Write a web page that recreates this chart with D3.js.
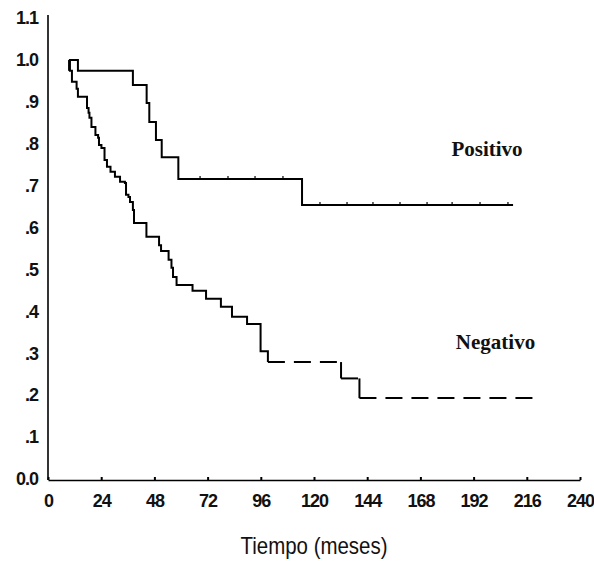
<!DOCTYPE html>
<html>
<head>
<meta charset="utf-8">
<script src="https://cdn.jsdelivr.net/npm/d3@7/dist/d3.min.js"></script>
<style>
  body { margin: 0; background: #fff; }
  svg { display: block; }
  .axis text { font-family: "Liberation Sans", Arial, sans-serif; font-size: 18px; font-weight: bold; fill: #111; letter-spacing: -1px; }
  .axis path, .axis line { stroke: #000; }
  .group-label { font-family: "Liberation Serif", "Times New Roman", serif; font-size: 21px; font-weight: bold; fill: #111; }
  .axis-title { font-family: "Liberation Sans", Arial, sans-serif; font-size: 24px; fill: #111; }
</style>
</head>
<body>
<svg id="chart" width="594" height="568"></svg>
<script>
// Kaplan-Meier style steps: time (months) where the curve drops, value after the drop
const positivoTimes  = [9.5, 13.5, 38.3, 44.5, 45.7, 48.7, 51.3, 58.8, 114.6]
const positivoValues = [1.0, 0.974, 0.940, 0.897, 0.852, 0.809, 0.768, 0.716, 0.654]
const positivoEnd = 209.8
const positivoCensored = [68.6, 81.2, 93.4, 106, 122.7, 134.9, 146.6, 158.8, 171, 182.3, 194.9, 207.5]

const negativoTimes  = [9.5, 9.9, 10.8, 12.9, 13.5, 17.6, 18.3, 18.7, 19.6, 21.4, 22.6, 23.0, 24.1, 25.5,
                        26.6, 28.2, 30.2, 32.5, 34.7, 35.2, 36.3, 37.0, 38.3, 38.8, 44.4, 50.1, 51.0,
                        54.4, 55.7, 56.4, 58.0, 65.2, 71.3, 78.0, 83.0, 89.8, 95.9, 99.2, 132.2, 140.5]
const negativoValues = [1.0, 0.974, 0.948, 0.931, 0.912, 0.885, 0.874, 0.862, 0.840, 0.821, 0.814, 0.797, 0.790, 0.761,
                        0.745, 0.733, 0.721, 0.709, 0.706, 0.678, 0.673, 0.661, 0.642, 0.611, 0.578, 0.558, 0.544,
                        0.523, 0.504, 0.482, 0.463, 0.449, 0.430, 0.411, 0.387, 0.370, 0.305, 0.279, 0.240, 0.193]
const negativoEnd = 220.6
const negativoDashFrom = 99.2   // tail of the curve drawn dashed

const xTicks = [0, 24, 48, 72, 96, 120, 144, 168, 192, 216, 240]
const yTicks = [0, 0.1, 0.2, 0.3, 0.4, 0.5, 0.6, 0.7, 0.8, 0.9, 1.0, 1.1]
const yTickLabels = ["0.0", ".1", ".2", ".3", ".4", ".5", ".6", ".7", ".8", ".9", "1.0", "1.1"]

const svg = d3.select("#chart")
const margin = { top: 18, right: 14, bottom: 89, left: 48 }
const width = +svg.attr("width") - margin.left - margin.right
const height = +svg.attr("height") - margin.top - margin.bottom

const x = d3.scaleLinear().domain([0, 240]).range([margin.left, margin.left + width])
const y = d3.scaleLinear().domain([0, 1.1]).range([margin.top + height, margin.top])

// axes
const xAxis = svg.append("g")
    .attr("class", "axis")
    .attr("transform", "translate(0," + (margin.top + height + 1) + ")")
    .call(d3.axisBottom(x).tickValues(xTicks).tickSizeInner(-3).tickSizeOuter(0).tickPadding(14))
xAxis.select(".domain").attr("stroke-width", 1.3)
xAxis.selectAll(".tick line").attr("stroke-width", 2)

const yAxis = svg.append("g")
    .attr("class", "axis")
    .attr("transform", "translate(" + margin.left + ",0)")
    .call(d3.axisLeft(y).tickValues(yTicks).tickSize(0).tickPadding(10)
        .tickFormat((d, i) => yTickLabels[i]))
yAxis.select(".domain").attr("stroke-width", 1.6)
    .attr("d", "M0," + (y(0) + 1) + "V" + (margin.top - 3))

// step line helper
const stepLine = d3.line()
    .x(d => x(d[0]))
    .y(d => y(d[1]))
    .curve(d3.curveStepAfter)

function stepPoints (times, values, end) {
    const pts = times.map((t, i) => [t, values[i]])
    pts.push([end, values[values.length - 1]])
    return pts
}

// Positivo
const posPts = stepPoints(positivoTimes, positivoValues, positivoEnd)
svg.append("path")
    .datum(posPts)
    .attr("fill", "none")
    .attr("stroke", "#000")
    .attr("stroke-width", 2)
    .attr("d", stepLine)

// small box at the start of the positive curve
svg.append("path")
    .datum([[positivoTimes[0], positivoValues[1]], [positivoTimes[0], positivoValues[0]]])
    .attr("fill", "none")
    .attr("stroke", "#000")
    .attr("stroke-width", 2)
    .attr("d", d3.line().x(d => x(d[0])).y(d => y(d[1])))

const valueAt = (times, values, t) => {
    let v = values[0]
    times.forEach((tt, i) => { if (tt <= t) v = values[i] })
    return v
}

svg.append("g").selectAll("line")
    .data(positivoCensored)
    .join("line")
    .attr("x1", d => x(d))
    .attr("x2", d => x(d))
    .attr("y1", d => y(valueAt(positivoTimes, positivoValues, d)))
    .attr("y2", d => y(valueAt(positivoTimes, positivoValues, d)) - 3)
    .attr("stroke", "#000")
    .attr("stroke-width", 1.2)

// Negativo: solid head
const negPts = stepPoints(negativoTimes, negativoValues, negativoEnd)
const head = negPts.filter(d => d[0] <= negativoDashFrom)
svg.append("path")
    .datum(head)
    .attr("fill", "none")
    .attr("stroke", "#000")
    .attr("stroke-width", 2)
    .attr("d", stepLine)

// Negativo: tail, horizontal parts dashed, drops solid
const tail = negPts.filter(d => d[0] >= negativoDashFrom)
const tailH = [], tailV = []
for (let i = 0; i < tail.length - 1; i++) {
    tailH.push([[tail[i][0], tail[i][1]], [tail[i + 1][0], tail[i][1]]])
    if (tail[i + 1][1] !== tail[i][1]) {
        tailV.push([[tail[i + 1][0], tail[i][1]], [tail[i + 1][0], tail[i + 1][1]]])
    }
}
const segLine = d3.line().x(d => x(d[0])).y(d => y(d[1]))
svg.append("g").selectAll("path")
    .data(tailH)
    .join("path")
    .attr("fill", "none")
    .attr("stroke", "#000")
    .attr("stroke-width", 2)
    .attr("stroke-dasharray", "17,9")
    .attr("d", segLine)
svg.append("g").selectAll("path")
    .data(tailV)
    .join("path")
    .attr("fill", "none")
    .attr("stroke", "#000")
    .attr("stroke-width", 2)
    .attr("d", segLine)

// group labels
svg.append("text")
    .attr("class", "group-label")
    .attr("x", x(182))
    .attr("y", y(0.77))
    .text("Positivo")

svg.append("text")
    .attr("class", "group-label")
    .attr("x", x(184))
    .attr("y", y(0.31))
    .text("Negativo")

// axis title
svg.append("text")
    .attr("class", "axis-title")
    .attr("x", x(120))
    .attr("y", 554)
    .attr("text-anchor", "middle")
    .attr("textLength", 147)
    .attr("lengthAdjust", "spacingAndGlyphs")
    .text("Tiempo (meses)")
</script>
</body>
</html>
